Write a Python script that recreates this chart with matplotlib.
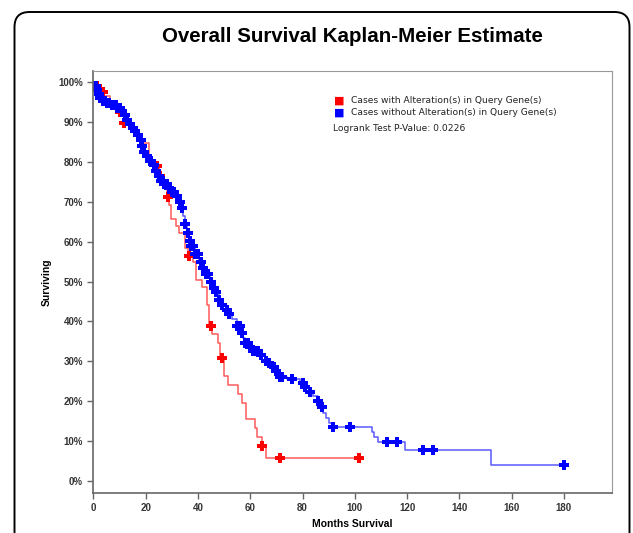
'''
overall survival KM plot (altered vs unaltered)
'''
import numpy as np
import matplotlib
matplotlib.use('Agg')
import matplotlib.pyplot as plt
from matplotlib.patches import FancyBboxPatch
from matplotlib.ticker import FuncFormatter

# step curves: time (months) where survival changes, survival (%) after change
alt_t = [0, 1, 2.5, 4, 6.5, 8, 10, 11.5, 13.5, 15, 17, 18, 21.2, 23, 25, 26.5, 28, 28.8,
         29.6, 31.5, 32.8, 35, 36.3, 38, 39.3, 41.5, 43.3, 44.2, 45.3, 47.8, 48.3, 49.9,
         51.6, 55.4, 56.7, 58.2, 61.8, 62.4, 64.6, 65.9]
alt_s = [100, 99, 97.5, 96.5, 95, 93.5, 92.5, 89.7, 89, 87.5, 86, 84.8, 80.5, 79, 76.5, 75,
         71.1, 69.3, 65.7, 63.9, 62.1, 58.3, 56.4, 55, 50.5, 48.7, 44.1, 38.8, 36.8, 34.6,
         30.8, 26.3, 24.1, 21.8, 19.5, 15.5, 13.2, 11.1, 8.85, 5.8]
alt_end = 101.6
alt_cens = [1.3, 3.5, 9, 10, 11.8, 24.3, 25.4, 28.5, 36.5, 44.8, 49.3, 64.6, 71.5, 101.6]

unalt_t = [0, 0.5, 1.2, 1.8, 2.5, 3.2, 5, 7, 9, 10.5, 11.5, 12.5, 13.5, 14.5, 15.5, 16.5,
           17.5, 18.5, 19.5, 20.5, 21.5, 22.5, 23.5, 24.5, 25.5, 27, 28.5, 30, 31.5, 32.3,
           33.3, 34.2, 35, 35.7, 36.5, 37.5, 39, 40.2, 41.5, 43, 44.5, 45.5, 46.5, 48, 48.8,
           49.7, 51.5, 53, 55, 56.5, 57.2, 58, 59.5, 60.5, 64, 65.5, 67, 68.5, 70, 71.5, 74,
           79, 80.5, 82.5, 84, 86, 87, 88, 89, 90, 91.2, 106.5, 107.5, 109, 119.2, 152]
unalt_s = [100, 99, 98, 97, 96, 95.3, 94.8, 94.3, 93.6, 92.8, 91.8, 90.5, 89.5, 88.6, 87.8,
           86.8, 85.5, 84, 82.5, 81.5, 80.3, 79.2, 77.8, 76.5, 75.2, 74.5, 73.5, 72.5, 71.5,
           70, 68.5, 66.5, 64.5, 62.2, 60.2, 58.8, 57, 55, 53.5, 51.8, 50, 48.5, 47.4, 45.5,
           44, 42.8, 41.8, 40.5, 38.8, 37, 35.8, 34.5, 33.5, 32.6, 31.5, 30.2, 29.5, 28.5,
           27.5, 26.2, 25.5, 24.7, 23.5, 22.2, 21.2, 20, 18.5, 17, 15.8, 14.6, 13.6, 12.2, 11,
           9.9, 7.9, 3.9]
unalt_end = 180
unalt_cens = [0.5, 1, 1.5, 2, 2.5, 3, 3.5, 4, 4.5, 5, 6, 7, 8, 8.5, 9, 10, 11, 12, 13, 14,
              15, 16, 17, 18, 18.7, 19.5, 20.5, 21.5, 22, 23, 24, 25, 26, 26.5, 27, 28, 29,
              30, 31, 32, 33, 34, 35, 36, 37, 37.5, 38, 39, 40, 41, 42, 43, 44, 45, 46, 47,
              48, 49, 51, 52, 55, 56, 57, 58, 59, 60, 61, 62, 63, 64, 66, 67, 69, 70, 71.5,
              72, 76, 80, 81, 83, 86, 87.5, 91.5, 98, 112.5, 116, 126, 130, 180]

pval = 0.0226
xticks = [0, 20, 40, 60, 80, 100, 120, 140, 160, 180]
yticks = [0, 10, 20, 30, 40, 50, 60, 70, 80, 90, 100]


def km_step(t, s, end):
    t = np.append(t, end)
    s = np.append(s, s[-1])
    return t, s


def at(t, s, x):
    idx = np.searchsorted(t, x, side='right') - 1
    return np.asarray(s)[idx]


fig = plt.figure(figsize=(6.33, 5.33), dpi=100)
frame = FancyBboxPatch((0.145, -0.5), 6.15, 5.71, boxstyle='round,pad=0,rounding_size=0.15',
                       transform=fig.dpi_scale_trans, fill=False, ec='black', lw=1.4)
fig.patches.append(frame)

ax = fig.add_axes([0.1477, 0.075, 0.819, 0.792])
groups = [(alt_t, alt_s, alt_end, alt_cens, '#ff5a5a', 'red'),
          (unalt_t, unalt_s, unalt_end, unalt_cens, '#5a5aff', 'blue')]
for t, s, end, cens, lc, mc in groups:
    tt, ss = km_step(t, s, end)
    ax.step(tt, ss, where='post', color=lc, lw=1.1)
    ax.plot(cens, at(t, s, cens), 'P', color=mc, ms=6.5, mew=0, ls='none')

ax.set_xlim(0, 198.4)
ax.set_ylim(-3, 102.8)
ax.set_xticks(xticks)
ax.set_yticks(yticks)
ax.yaxis.set_major_formatter(FuncFormatter(lambda v, p: f'{v:.0f}%'))
for sp in ['top', 'right']:
    ax.spines[sp].set_color('#999999')
for sp in ['left', 'bottom']:
    ax.spines[sp].set_color('#666666')
    ax.spines[sp].set_linewidth(1.2)
ax.tick_params(length=4, width=1, color='#666666', labelsize=7, labelcolor='#333333')
for lab in ax.get_xticklabels() + ax.get_yticklabels():
    lab.set_fontweight('bold')
    lab.set_family('Liberation Sans')

ax.set_xlabel('Months Survival', fontsize=7.5, fontweight='bold', family='Liberation Sans', labelpad=4)
ax.set_ylabel('Surviving', fontsize=7.5, fontweight='bold', family='Liberation Sans', labelpad=5)

fig.text(0.556, 0.932, 'Overall Survival Kaplan-Meier Estimate', ha='center', va='center',
         fontsize=14.8, fontweight='bold', family='Liberation Sans')

# legend drawn as in the original (squares + text)
fig.text(0.528, 0.812, '\u25a0', color='red', fontsize=8, va='center', ha='left')
fig.text(0.528, 0.789, '\u25a0', color='blue', fontsize=8, va='center', ha='left')
fig.text(0.554, 0.812, 'Cases with Alteration(s) in Query Gene(s)', fontsize=6.6, va='center', color='#222222')
fig.text(0.554, 0.789, 'Cases without Alteration(s) in Query Gene(s)', fontsize=6.6, va='center', color='#222222')
fig.text(0.526, 0.758, f'Logrank Test P-Value: {pval}', fontsize=6.6, va='center', color='#222222')

fig.savefig('out.png', dpi=100)
